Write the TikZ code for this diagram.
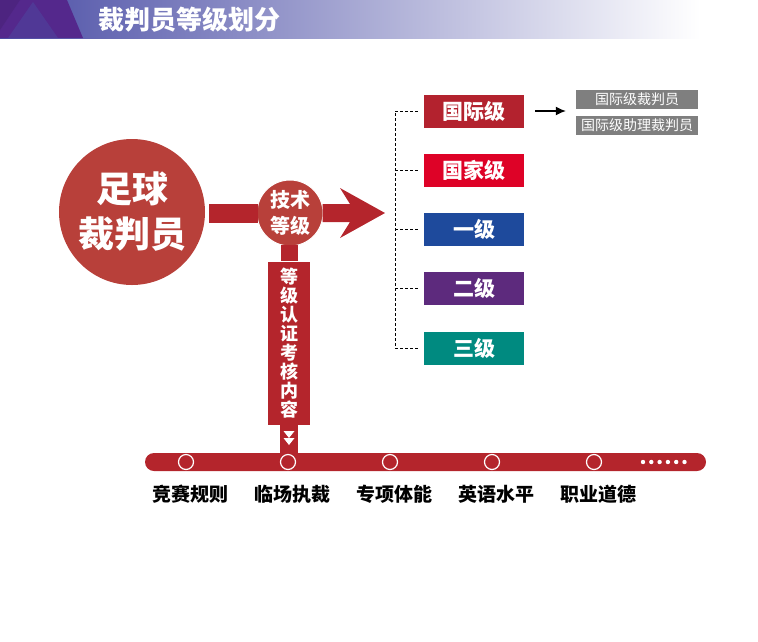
\documentclass[tikz,border=0pt]{standalone}
\usepackage{fontspec}
\setmainfont{Noto Sans CJK SC}
\usepackage{tikz}
\usetikzlibrary{positioning,calc,arrows.meta}
\definecolor{hdr}{HTML}{4C4FA6}
\definecolor{hdrpurple}{HTML}{54288C}
\definecolor{ref}{HTML}{B8403A}
\definecolor{bar}{HTML}{B4252C}
\definecolor{intl}{HTML}{B3222E}
\definecolor{natl}{HTML}{DE0227}
\definecolor{lvone}{HTML}{1E4A9C}
\definecolor{lvtwo}{HTML}{5D2A7D}
\definecolor{lvthree}{HTML}{008A80}
\definecolor{subbox}{HTML}{7F7F7F}

\begin{document}
\begin{tikzpicture}[x=1pt,y=-1pt,font=\bfseries,>=Latex,
  lvl/.style={rectangle,minimum width=100pt,minimum height=33pt,inner sep=0pt,text=white,font=\fontsize{21}{21}\selectfont\bfseries},
  sub/.style={rectangle,fill=subbox,minimum width=122pt,minimum height=19pt,inner sep=0pt,text=white,font=\fontsize{14}{14}\selectfont},
  stop/.style={circle,draw=white,line width=1.2pt,fill=bar,minimum size=15pt,inner sep=0pt},
  topic/.style={font=\fontsize{19}{19}\selectfont\bfseries},
  brk/.style={densely dashed,black,line width=0.8pt}]
\useasboundingbox (0,0) rectangle (758,641);

% ---- header band
\shade[left color=hdr,right color=white] (0,0) rectangle (700,38);
\fill[hdrpurple] (0,0) -- (67,0) -- (83,38) -- (0,38) -- cycle;
\fill[hdr!70!hdrpurple,opacity=0.6] (8,38) -- (33,2) -- (58,38) -- cycle;
\fill[hdrpurple!80!black,opacity=0.4] (0,0) -- (20,0) -- (0,30) -- cycle;
\node[text=white,anchor=west,font=\fontsize{26}{26}\selectfont\bfseries] (title) at (95,20) {裁判员等级划分};

% ---- referee and technical level
\node[circle,fill=ref,minimum size=146pt,inner sep=0pt,text=white,align=center,
  font=\fontsize{36}{45}\selectfont\bfseries] (ref) at (132,212) {足球\\裁判员};
\node[circle,fill=ref,draw=white,line width=1pt,minimum size=66pt,inner sep=0pt,text=white,align=center,
  font=\fontsize{20}{26}\selectfont\bfseries] (tech) at (290,213) {技术\\等级};
\fill[bar] ($(ref.east)+(4,-8)$) rectangle ($(tech.west)+(1,10)$);
\coordinate (tip) at (385,213);
\fill[bar] ($(tech.east)+(-1,-9)$) -- (350,204) -- (340,188) -- (tip)
  -- (340,238) -- (350,222) -- ($(tech.east)+(-1,9)$) -- cycle;

% ---- vertical: assessment content
\node[fill=bar,minimum width=42pt,minimum height=163pt,inner sep=0pt,text=white,align=center,
  font=\fontsize{18}{19}\selectfont\bfseries] (exam) at (289,343)
  {等\\级\\认\\证\\考\\核\\内\\容};
\fill[bar] ($(tech.south)+(-9,-2)$) rectangle ($(exam.north)+(9,0)$);
\fill[bar] ($(exam.south)+(-9,0)$) rectangle (298,455);
\fill[white] (283.5,431) -- (294.5,431) -- (289,438) -- cycle;
\fill[white] (283.5,438) -- (294.5,438) -- (289,445) -- cycle;

% ---- bottom line
\fill[bar,rounded corners=9pt] (145,453) rectangle (706,471);
\foreach \i/\x/\t in {1/186/竞赛规则,2/288/临场执裁,3/390/专项体能,4/492/英语水平,5/594/职业道德}{
  \node[stop] (s\i) at (\x,462) {};
  \node[topic] (t\i) at (\x+4,494) {\t};
}
\foreach \k in {0,...,5}
  \fill[white] (643+\k*8.3,462) circle (2.2pt);

% ---- levels
\node[lvl,fill=intl] (l1) at (474,111) {国际级};
\node[lvl,fill=natl] (l2) at (474,170) {国家级};
\node[lvl,fill=lvone] (l3) at (474,229) {一级};
\node[lvl,fill=lvtwo] (l4) at (474,288) {二级};
\node[lvl,fill=lvthree] (l5) at (474,348) {三级};
\coordinate (bk) at (395,0);
\draw[brk] ([xshift=-6pt]l1.west) -- (bk |- l1) -- (bk |- l5) -- ([xshift=-6pt]l5.west);
\foreach \n in {2,3,4}
  \draw[brk] (bk |- l\n) -- ([xshift=-6pt]l\n.west);

\node[sub] (g1) at (637,99) {国际级裁判员};
\node[sub] (g2) at (637,125) {国际级助理裁判员};
\draw[-{Latex[length=10pt,width=9pt]},line width=1.2pt] ([xshift=11pt]l1.east) -- ([xshift=-10pt]g1.west |- l1);
\end{tikzpicture}
\end{document}
